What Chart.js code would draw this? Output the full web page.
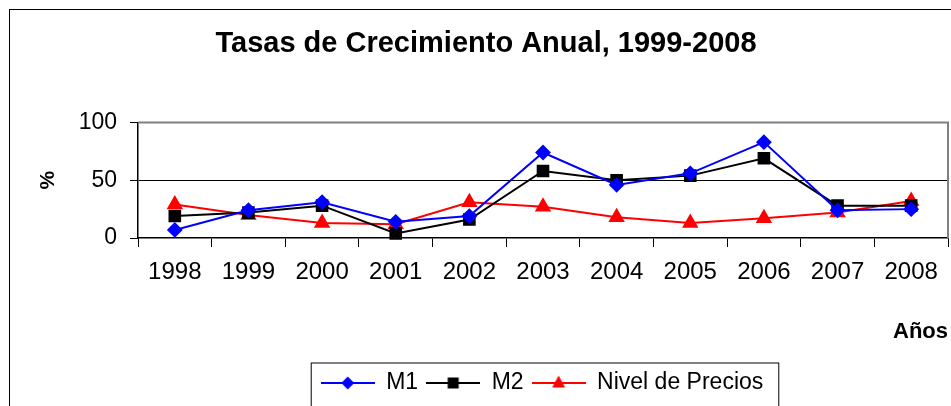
<!DOCTYPE html>
<html>
<head>
<meta charset="utf-8">
<script src="https://cdn.jsdelivr.net/npm/chart.js@4.4.1/dist/chart.umd.min.js"></script>
<style>
  body { margin: 0; background: #fff; overflow: hidden; }
  #wrap { position: relative; width: 951px; height: 406px; overflow: hidden; }
  #frame { position: absolute; left: 9px; top: 9px; width: 1000px; height: 500px; border: 1.5px solid #000; }
  #chart { position: absolute; left: 0; top: 0; }
</style>
</head>
<body>
<div id="wrap">
  <div id="frame"></div>
  <canvas id="chart" width="951" height="406"></canvas>
</div>
<script>
const years = ['1998', '1999', '2000', '2001', '2002', '2003', '2004', '2005', '2006', '2007', '2008']
const m1 = [7, 24, 31, 14, 19, 74, 46, 56, 83, 24, 25]
const m2 = [19, 22, 28, 4, 16, 58, 50, 54, 69, 28, 28]
const precios = [29, 20, 13, 12, 31, 27, 18, 13, 17, 22, 32]
const yTicks = [0, 50, 100]

const FONT = "'Liberation Sans', Arial, sans-serif"

// legend icon: line with the marker in the middle, like the Excel legend
const makeIcon = function (color, shape) {
    const c = document.createElement('canvas')
    c.width = 54
    c.height = 20
    const g = c.getContext('2d')
    g.strokeStyle = color
    g.fillStyle = color
    g.lineWidth = 2
    g.beginPath()
    g.moveTo(0, 10)
    g.lineTo(54, 10)
    g.stroke()
    g.beginPath()
    if (shape === 'diamond') {
        g.moveTo(27, 3.5); g.lineTo(33.5, 10); g.lineTo(27, 16.5); g.lineTo(20.5, 10)
    } else if (shape === 'square') {
        g.rect(21.5, 4.5, 11, 11)
    } else {
        g.moveTo(27, 2.5); g.lineTo(33.5, 14.5); g.lineTo(20.5, 14.5)
    }
    g.closePath()
    g.fill()
    return c
}
const legendIcons = [makeIcon('#0000ff', 'diamond'), makeIcon('#000000', 'square'), makeIcon('#ff0000', 'triangle')]

const framePlugin = {
    id: 'framePlugin',
    afterLayout(chart) {
        // move the legend right, it is not centred under the title
        chart.legend.left += 56
        chart.legend.right += 56
    },
    beforeDatasetsDraw(chart) {
        const {ctx, chartArea} = chart
        ctx.save()
        ctx.strokeStyle = '#808080'
        ctx.lineWidth = 2
        ctx.beginPath()
        ctx.moveTo(chartArea.left, chartArea.top)
        ctx.lineTo(chartArea.right, chartArea.top)
        ctx.lineTo(chartArea.right, chartArea.bottom)
        ctx.stroke()
        ctx.restore()
    },
    afterDraw(chart) {
        const lg = chart.legend
        const boxes = lg.legendHitBoxes
        if (!boxes || !boxes.length) return
        const last = boxes[boxes.length - 1]
        const ctx = chart.ctx
        ctx.save()
        ctx.strokeStyle = '#000'
        ctx.lineWidth = 1
        ctx.strokeRect(boxes[0].left - 9.5, lg.top - 0.5, last.left + last.width - boxes[0].left + 25, 60)
        ctx.restore()
    }
}

const ctx = document.getElementById('chart').getContext('2d')
new Chart(ctx, {
    type: 'line',
    data: {
        labels: years,
        datasets: [{
            label: 'M1',
            data: m1,
            borderColor: '#0000ff',
            backgroundColor: '#0000ff',
            pointStyle: 'rectRot',
            pointRadius: 6.5,
            borderWidth: 2,
            clip: false
        }, {
            label: 'M2',
            data: m2,
            borderColor: '#000000',
            backgroundColor: '#000000',
            pointStyle: 'rect',
            pointRadius: 7.5,
            borderWidth: 2,
            clip: false
        }, {
            label: 'Nivel de Precios',
            data: precios,
            borderColor: '#ff0000',
            backgroundColor: '#ff0000',
            pointStyle: 'triangle',
            pointRadius: 7.5,
            borderWidth: 2,
            clip: false
        }]
    },
    options: {
        responsive: false,
        animation: false,
        layout: { autoPadding: false, padding: { left: 24, right: 3, top: 0, bottom: 1.5 } },
        plugins: {
            title: {
                display: true,
                text: 'Tasas de Crecimiento Anual, 1999-2008',
                color: '#000',
                font: { family: FONT, size: 29, weight: 'bold' },
                padding: { top: 26.6, bottom: 61.1 }
            },
            legend: {
                display: true,
                position: 'bottom',
                labels: {
                    color: '#000',
                    font: { family: FONT, size: 23 },
                    usePointStyle: true,
                    pointStyleWidth: 54,
                    padding: 8,
                    generateLabels(chart) {
                        const items = Chart.defaults.plugins.legend.labels.generateLabels(chart)
                        items.forEach((it, i) => { it.pointStyle = legendIcons[i] })
                        return items
                    }
                }
            },
            tooltip: { enabled: false }
        },
        scales: {
            x: {
                offset: true,
                afterFit(scale) {
                    scale.height = 125.5
                    scale.paddingLeft = 0
                    scale.paddingRight = 0
                },
                grid: { offset: true, drawOnChartArea: false, color: '#000', tickLength: 9 },
                border: { color: '#000', width: 1.5 },
                ticks: { color: '#000', font: { family: FONT, size: 24 }, padding: 11, maxRotation: 0 },
                title: {
                    display: true,
                    text: 'Años',
                    align: 'end',
                    color: '#000',
                    font: { family: FONT, size: 22, weight: 'bold' },
                    padding: { top: 0, bottom: 18.3 }
                }
            },
            y: {
                min: 0,
                max: 100,
                afterFit(scale) { scale.width = 114 },
                afterBuildTicks(scale) { scale.ticks = yTicks.map(v => ({ value: v })) },
                grid: {
                    color: c => c.tick && c.tick.value === 50 ? '#000' : 'rgba(0,0,0,0)',
                    tickColor: '#000',
                    tickLength: 8,
                    lineWidth: 1
                },
                border: { color: '#000', width: 1.5 },
                ticks: { color: '#000', font: { family: FONT, size: 23 }, padding: 13 },
                title: {
                    display: true,
                    text: '%',
                    color: '#000',
                    font: { family: FONT, size: 21, weight: 'bold' },
                    padding: { top: 11.4, bottom: 0 }
                }
            }
        }
    },
    plugins: [framePlugin]
})
</script>
</body>
</html>
